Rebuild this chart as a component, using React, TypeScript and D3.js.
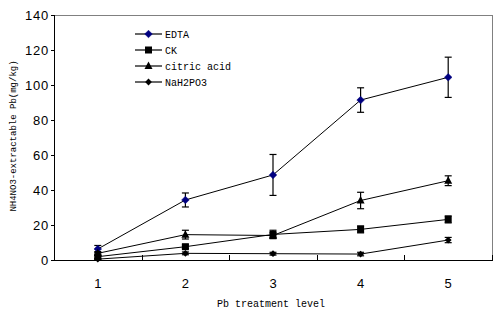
import React from "react";
import * as d3 from "d3";

const categories = ["1", "2", "3", "4", "5"];
const seriesNames = ["EDTA", "CK", "citric acid", "NaH2PO3"];
const edta = [6.3, 34.3, 48.6, 91.4, 104.4];
const edtaErr = [2, 4, 11.7, 7, 11.5];
const ck = [1.9, 7.6, 14.6, 17.5, 23.2];
const ckErr = [0.8, 1, 2.4, 2, 2];
const citric = [3.8, 14.5, 14, 34, 45.3];
const citricErr = [1, 2.5, 1.5, 4.7, 2.8];
const nah2po3 = [0.5, 3.8, 3.6, 3.4, 11.4];
const nah2po3Err = [0.3, 0.8, 0.8, 1, 1.5];
const yTicks = [0, 20, 40, 60, 80, 100, 120, 140];

const W = 504, H = 325;
const L = 54, R = 492, T = 15, B = 260;

const series = [
  { name: seriesNames[0], values: edta, err: edtaErr, marker: "diamond", color: "#000080" },
  { name: seriesNames[1], values: ck, err: ckErr, marker: "square", color: "#000" },
  { name: seriesNames[2], values: citric, err: citricErr, marker: "triangle", color: "#000" },
  { name: seriesNames[3], values: nah2po3, err: nah2po3Err, marker: "smalldiamond", color: "#000" },
];

function Marker({ type, x, y, color }: { type: string; x: number; y: number; color: string }) {
  if (type === "diamond") {
    const s = 3.8;
    return <path d={`M${x},${y - s}L${x + s},${y}L${x},${y + s}L${x - s},${y}Z`} fill={color} stroke={color} strokeWidth={0.5} />;
  }
  if (type === "smalldiamond") {
    const s = 3.4;
    return <path d={`M${x},${y - s}L${x + s},${y}L${x},${y + s}L${x - s},${y}Z`} fill={color} />;
  }
  if (type === "square") {
    return <rect x={x - 3.5} y={y - 3.5} width={7} height={7} fill={color} />;
  }
  return <path d={`M${x},${y - 4.5}L${x + 4},${y + 3}L${x - 4},${y + 3}Z`} fill={color} />;
}

export default function App() {
  const x = d3.scaleBand().domain(categories).range([L, R]);
  const y = d3.scaleLinear().domain([0, 140]).range([B, T]);
  const cx = (c: string) => (x(c) as number) + x.bandwidth() / 2;
  const line = d3.line<number>().x((_, i) => cx(categories[i])).y((v) => y(v));
  const boundaries = categories.map((c) => (x(c) as number) + x.bandwidth());

  return (
    <svg width={W} height={H} style={{ position: "fixed", left: 0, top: 0, background: "#fff" }}>
      <rect x={0} y={0} width={W} height={H} fill="#fff" />
      {/* frame */}
      <line x1={L} y1={T + 0.5} x2={R} y2={T + 0.5} stroke="#808080" />
      <line x1={R + 0.5} y1={T} x2={R + 0.5} y2={B} stroke="#808080" />
      <line x1={L + 0.5} y1={T} x2={L + 0.5} y2={B + 1} stroke="#000" />
      <line x1={L} y1={B + 0.5} x2={R + 1} y2={B + 0.5} stroke="#000" />
      {/* y ticks */}
      {yTicks.map((t) => (
        <g key={t}>
          <line x1={L - 3} x2={L} y1={Math.round(y(t)) + 0.5} y2={Math.round(y(t)) + 0.5} stroke="#000" />
          <text x={L - 5} y={y(t)} dy="0.35em" textAnchor="end" fontFamily="Liberation Sans, sans-serif" fontSize={13} letterSpacing={0.8} fill="#000">
            {t}
          </text>
        </g>
      ))}
      {/* x ticks */}
      {boundaries.map((b, i) => (
        <line key={i} x1={Math.round(b) + 0.5} x2={Math.round(b) + 0.5} y1={B - 5} y2={B} stroke="#000" />
      ))}
      {categories.map((c) => (
        <text key={c} x={cx(c)} y={283} dy="0.35em" textAnchor="middle" fontFamily="Liberation Sans, sans-serif" fontSize={13} fill="#000">
          {c}
        </text>
      ))}
      {/* axis titles */}
      <text x={271} y={303} dy="0.35em" textAnchor="middle" fontFamily="Liberation Mono, monospace" fontSize={10} fill="#000">
        Pb treatment level
      </text>
      <text transform={`translate(13,136) rotate(-90)`} textAnchor="middle" dy="0.35em" fontFamily="Liberation Mono, monospace" fontSize={9} fill="#000">
        NH4NO3-extractable Pb(mg/kg)
      </text>
      {/* series */}
      {series.map((s) => (
        <g key={s.name}>
          <path d={line(s.values) as string} fill="none" stroke="#000" strokeWidth={1} />
          {s.values.map((v, i) => {
            const px = cx(categories[i]);
            const y1 = y(v + s.err[i]);
            const y2 = y(v - s.err[i]);
            return (
              <g key={i}>
                <line x1={px} x2={px} y1={y1} y2={y2} stroke="#000" strokeWidth={1.2} />
                <line x1={px - 3.5} x2={px + 3.5} y1={y1} y2={y1} stroke="#000" strokeWidth={1.2} />
                <line x1={px - 3.5} x2={px + 3.5} y1={y2} y2={y2} stroke="#000" strokeWidth={1.2} />
              </g>
            );
          })}
          {s.values.map((v, i) => (
            <Marker key={i} type={s.marker} x={cx(categories[i])} y={y(v)} color={s.color} />
          ))}
        </g>
      ))}
      {/* legend */}
      {series.map((s, i) => {
        const ly = 34 + i * 16;
        return (
          <g key={s.name}>
            <line x1={135} x2={162} y1={ly} y2={ly} stroke="#000" strokeWidth={1.2} />
            <Marker type={s.marker} x={148.5} y={ly} color={s.color} />
            <text x={165} y={ly} dy="0.35em" fontFamily="Liberation Mono, monospace" fontSize={10} fill="#000">
              {s.name}
            </text>
          </g>
        );
      })}
    </svg>
  );
}
